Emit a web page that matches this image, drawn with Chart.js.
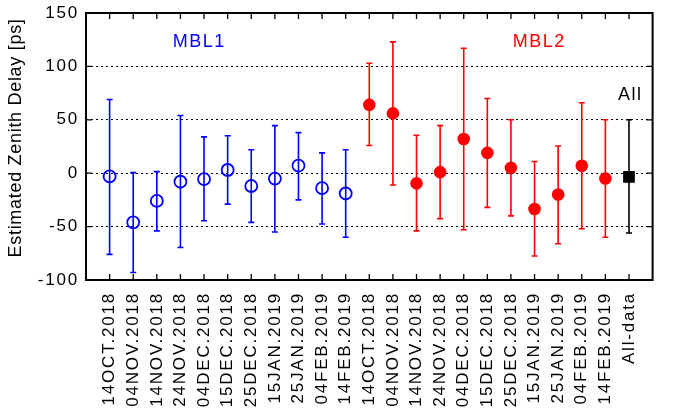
<!DOCTYPE html>
<html>
<head>
<meta charset="utf-8">
<script src="https://cdn.jsdelivr.net/npm/chart.js@4.4.1/dist/chart.umd.min.js"></script>
<style>
  html, body { margin: 0; padding: 0; background: #fff; }
  #wrap { width: 685px; height: 414px; position: relative; }
</style>
</head>
<body>
<div id="wrap"><canvas id="c" width="685" height="414"></canvas></div>
<script>
// ---- data ----
const categories = [
  '14OCT.2018','04NOV.2018','14NOV.2018','24NOV.2018','04DEC.2018','15DEC.2018',
  '25DEC.2018','15JAN.2019','25JAN.2019','04FEB.2019','14FEB.2019',
  '14OCT.2018','04NOV.2018','14NOV.2018','24NOV.2018','04DEC.2018','15DEC.2018',
  '25DEC.2018','15JAN.2019','25JAN.2019','04FEB.2019','14FEB.2019',
  'All-data'
];
const mbl1Value = [-3, -46, -26, -8, -5.5, 3, -12, -5, 7, -14, -19];
const mbl1High  = [69, 0.5, 1.5, 54, 34, 35, 22, 44.5, 38, 19, 22];
const mbl1Low   = [-76, -93, -54, -69.5, -44.5, -29, -46, -55, -25, -47.5, -60];

const mbl2Value = [64, 56, -9.5, 1, 32, 19, 5, -33.5, -20, 7, -5];
const mbl2High  = [103, 123, 35.5, 44.5, 117, 70, 50, 11, 25.5, 66, 50];
const mbl2Low   = [26, -11, -54, -42.5, -53, -32, -40, -77.5, -66, -52, -60];

const allValue = [-3.5];
const allHigh  = [50];
const allLow   = [-56];

const yTicks = [-100, -50, 0, 50, 100, 150];
const yTitle = 'Estimated Zenith Delay [ps]';

// ---- build datasets (x = category position 1..23) ----
function pts(values, offset) {
  return values.map((v, i) => ({ x: offset + i + 1, y: v }));
}
const FONT = '"Liberation Sans", Arial, Helvetica, sans-serif';
const SPACING = '1.8px';

const errorBarPlugin = {
  id: 'errorBars',
  beforeDatasetsDraw(chart) {
    const ctx = chart.ctx, xs = chart.scales.x, ys = chart.scales.y;
    chart.data.datasets.forEach((ds) => {
      if (!ds.errHigh) return;
      ctx.save();
      ctx.strokeStyle = ds.barColor;
      ctx.lineWidth = 1.6;
      ds.data.forEach((p, i) => {
        const x = xs.getPixelForValue(p.x);
        const yh = ys.getPixelForValue(ds.errHigh[i]);
        const yl = ys.getPixelForValue(ds.errLow[i]);
        ctx.beginPath();
        ctx.moveTo(x, yh); ctx.lineTo(x, yl);
        ctx.moveTo(x - 3, yh); ctx.lineTo(x + 3, yh);
        ctx.moveTo(x - 3, yl); ctx.lineTo(x + 3, yl);
        ctx.stroke();
      });
      ctx.restore();
    });
  }
};

const framePlugin = {
  id: 'frame',
  beforeDraw(chart) { chart.ctx.letterSpacing = SPACING; },
  afterDraw(chart) {
    const ctx = chart.ctx, a = chart.chartArea, xs = chart.scales.x, ys = chart.scales.y;
    ctx.save();
    ctx.letterSpacing = '0px';
    ctx.strokeStyle = '#000';
    ctx.lineWidth = 1.3;
    // inward tick marks
    ctx.beginPath();
    for (let i = 1; i <= categories.length; i++) {
      const x = xs.getPixelForValue(i);
      ctx.moveTo(x, a.bottom); ctx.lineTo(x, a.bottom - 6);
      ctx.moveTo(x, a.top); ctx.lineTo(x, a.top + 6);
    }
    yTicks.slice(1, -1).forEach(v => {
      const y = ys.getPixelForValue(v);
      ctx.moveTo(a.left, y); ctx.lineTo(a.left + 6, y);
      ctx.moveTo(a.right, y); ctx.lineTo(a.right - 6, y);
    });
    ctx.stroke();
    ctx.lineWidth = 2;
    ctx.strokeRect(a.left, a.top, a.right - a.left, a.bottom - a.top);
    // group labels
    ctx.letterSpacing = '1.5px';
    ctx.font = '18px ' + FONT;
    ctx.textAlign = 'center';
    ctx.textBaseline = 'middle';
    ctx.fillStyle = '#0000ff';
    ctx.fillText('MBL1', xs.getPixelForValue(4.8), ys.getPixelForValue(123));
    ctx.fillStyle = '#ff0000';
    ctx.fillText('MBL2', xs.getPixelForValue(19.2), ys.getPixelForValue(123));
    ctx.fillStyle = '#000';
    ctx.fillText('All', xs.getPixelForValue(23.05), ys.getPixelForValue(73));
    // y axis title
    ctx.letterSpacing = '0.7px';
    ctx.font = '18px ' + FONT;
    ctx.translate(16, ys.getPixelForValue(33));
    ctx.rotate(-Math.PI / 2);
    ctx.fillText(yTitle, 0, 0);
    ctx.restore();
    chart.ctx.letterSpacing = '0px';
  }
};

new Chart(document.getElementById('c'), {
  type: 'scatter',
  data: {
    datasets: [
      {
        label: 'MBL1', data: pts(mbl1Value, 0), errHigh: mbl1High, errLow: mbl1Low,
        barColor: '#0000ff', pointStyle: 'circle', pointRadius: 6,
        borderColor: '#0000ff', backgroundColor: 'rgba(0,0,0,0)', borderWidth: 1.8
      },
      {
        label: 'MBL2', data: pts(mbl2Value, 11), errHigh: mbl2High, errLow: mbl2Low,
        barColor: '#ff0000', pointStyle: 'circle', pointRadius: 6.3,
        borderColor: '#ff0000', backgroundColor: '#ff0000', borderWidth: 0
      },
      {
        label: 'All', data: pts(allValue, 22), errHigh: allHigh, errLow: allLow,
        barColor: '#000000', pointStyle: 'rect', pointRadius: 8.3,
        borderColor: '#000', backgroundColor: '#000', borderWidth: 0
      }
    ]
  },
  options: {
    responsive: false,
    animation: false,
    events: [],
    layout: { padding: { top: 13, right: 2, left: 0, bottom: 0 } },
    plugins: { legend: { display: false }, tooltip: { enabled: false } },
    scales: {
      x: {
        type: 'linear', min: 0, max: categories.length + 1,
        afterFit(s) { s.height = 134; },
        afterBuildTicks(s) {
          s.ticks = [];
          for (let i = 0; i <= categories.length + 1; i++) s.ticks.push({ value: i });
        },
        grid: { display: false, drawTicks: false },
        border: { display: false },
        ticks: {
          autoSkip: false, maxRotation: 90, minRotation: 90, padding: 12,
          color: '#000', font: { family: FONT, size: 17 },
          callback: (v) => (v >= 1 && v <= categories.length) ? categories[v - 1] : ''
        }
      },
      y: {
        min: yTicks[0], max: yTicks[yTicks.length - 1],
        afterFit(s) { s.width = 86; },
        afterBuildTicks(s) { s.ticks = yTicks.map(v => ({ value: v })); },
        border: { display: false, dash: [2, 3] },
        grid: {
          drawTicks: false, lineWidth: 1,
          color: (c) => (c.tick && (c.tick.value === yTicks[0] || c.tick.value === yTicks[yTicks.length - 1])) ? 'rgba(0,0,0,0)' : '#000'
        },
        ticks: {
          padding: 7, color: '#000', font: { family: FONT, size: 17, lineHeight: 0.5 },
          callback: (v) => String(v)
        },
        title: { display: false }
      }
    }
  },
  plugins: [errorBarPlugin, framePlugin]
});
</script>
</body>
</html>
